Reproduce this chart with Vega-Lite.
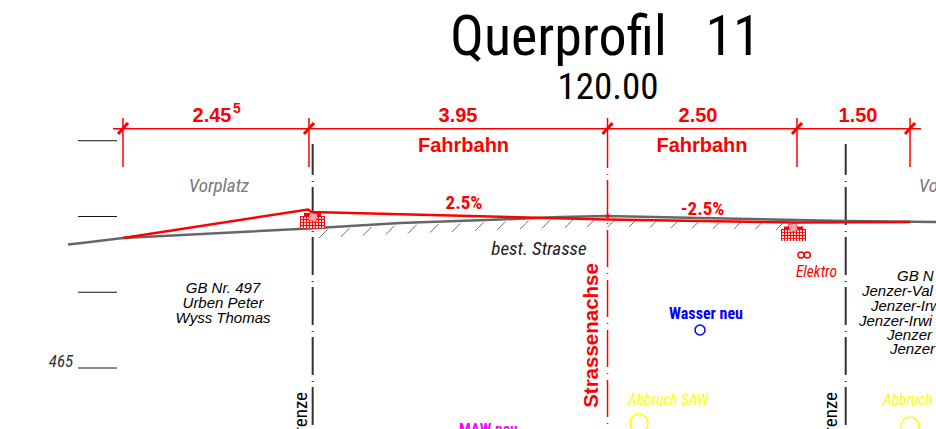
{"$schema":"https://vega.github.io/schema/vega-lite/v6.json","width":936,"height":429,"padding":0,"autosize":{"type":"none"},"background":"white","config":{"view":{"stroke":null}},
"encoding":{"x":{"field":"x","type":"quantitative","scale":{"domain":[-8.0124,4.3428],"nice":false,"zero":false},"axis":null},"y":{"field":"y","type":"quantitative","scale":{"domain":[464.1948,469.8576],"nice":false,"zero":false},"axis":null}},
"layer":[
{"data":{"values":[
{"kind":"dim","x":-6.521,"x2":4.145,"y":468.159,"y2":468.159},
{"kind":"dim","x":-6.389,"x2":-6.389,"y":468.3,"y2":467.653},
{"kind":"dim","x":-3.934,"x2":-3.934,"y":468.3,"y2":467.653},
{"kind":"dim","x":2.508,"x2":2.508,"y":468.3,"y2":467.653},
{"kind":"dim","x":4.0,"x2":4.0,"y":468.3,"y2":467.653},
{"kind":"dim","x":0.007,"x2":0.007,"y":468.3,"y2":467.64},
{"kind":"dim","x":0.007,"x2":0.007,"y":467.561,"y2":467.548},
{"kind":"axis","x":0.007,"x2":0.007,"y":467.482,"y2":464.195},
{"kind":"tick","x":-6.455,"x2":-6.323,"y":468.089,"y2":468.234},
{"kind":"tick","x":-4.0,"x2":-3.868,"y":468.089,"y2":468.234},
{"kind":"tick","x":-0.059,"x2":0.073,"y":468.089,"y2":468.234},
{"kind":"tick","x":2.442,"x2":2.574,"y":468.089,"y2":468.234},
{"kind":"tick","x":3.934,"x2":4.066,"y":468.089,"y2":468.234},
{"kind":"level","x":-6.983,"x2":-6.468,"y":468,"y2":468},
{"kind":"level","x":-6.983,"x2":-6.468,"y":467,"y2":467},
{"kind":"level","x":-6.983,"x2":-6.468,"y":466,"y2":466},
{"kind":"level","x":-6.983,"x2":-6.468,"y":465,"y2":465},
{"kind":"boundary","x":-3.885,"x2":-3.885,"y":464.248,"y2":467.957},
{"kind":"boundary","x":3.151,"x2":3.151,"y":464.248,"y2":467.957},
{"kind":"hatch","x":-3.802,"x2":-3.689,"y":466.716,"y2":466.828},
{"kind":"hatch","x":-3.511,"x2":-3.399,"y":466.733,"y2":466.845},
{"kind":"hatch","x":-3.221,"x2":-3.109,"y":466.749,"y2":466.861},
{"kind":"hatch","x":-2.917,"x2":-2.805,"y":466.765,"y2":466.877},
{"kind":"hatch","x":-2.627,"x2":-2.515,"y":466.777,"y2":466.889},
{"kind":"hatch","x":-2.336,"x2":-2.224,"y":466.787,"y2":466.899},
{"kind":"hatch","x":-2.046,"x2":-1.934,"y":466.797,"y2":466.909},
{"kind":"hatch","x":-1.742,"x2":-1.63,"y":466.808,"y2":466.921},
{"kind":"hatch","x":-1.452,"x2":-1.34,"y":466.819,"y2":466.931},
{"kind":"hatch","x":-1.148,"x2":-1.036,"y":466.831,"y2":466.943},
{"kind":"hatch","x":-0.858,"x2":-0.746,"y":466.844,"y2":466.956},
{"kind":"hatch","x":-0.554,"x2":-0.442,"y":466.852,"y2":466.964},
{"kind":"hatch","x":-0.264,"x2":-0.152,"y":466.859,"y2":466.971},
{"kind":"hatch","x":0.013,"x2":0.119,"y":466.865,"y2":466.971},
{"kind":"hatch","x":0.29,"x2":0.396,"y":466.861,"y2":466.967},
{"kind":"hatch","x":0.568,"x2":0.673,"y":466.855,"y2":466.96},
{"kind":"hatch","x":0.845,"x2":0.95,"y":466.849,"y2":466.955},
{"kind":"hatch","x":1.122,"x2":1.228,"y":466.844,"y2":466.95},
{"kind":"hatch","x":1.399,"x2":1.505,"y":466.839,"y2":466.944},
{"kind":"hatch","x":1.676,"x2":1.782,"y":466.835,"y2":466.94},
{"kind":"hatch","x":1.954,"x2":2.059,"y":466.828,"y2":466.934},
{"kind":"hatch","x":2.231,"x2":2.336,"y":466.822,"y2":466.927}
]},"mark":{"type":"rule"},"encoding":{"x2":{"field":"x2"},"y2":{"field":"y2"},
"color":{"field":"kind","type":"nominal","legend":null,"scale":{"domain":["dim","axis","tick","level","boundary","hatch"],"range":["#ff0000","#ff0000","#ff0000","#111111","#333333","#555555"]}},
"strokeWidth":{"field":"kind","type":"nominal","legend":null,"scale":{"type":"ordinal","domain":["dim","axis","tick","level","boundary","hatch"],"range":[1.5,1.5,3,1,2,1]}},
"strokeDash":{"field":"kind","type":"nominal","legend":null,"scale":{"domain":["dim","axis","tick","level","boundary","hatch"],"range":[[1,0],[37,6,1,6],[1,0],[1,0],[38,5,1,6],[1,0]]}}}},
{"data":{"values":[
{"x":-7.115,"y":466.63},{"x":-6.93,"y":466.65},{"x":-6.389,"y":466.716},{"x":-3.934,"y":466.841},{"x":-2.732,"y":466.914},{"x":-1.412,"y":466.96},{"x":-0.62,"y":466.993},{"x":0,"y":467.006},{"x":1.228,"y":466.98},{"x":3.155,"y":466.94},{"x":4.343,"y":466.927}
]},"mark":{"type":"line","color":"#666666","strokeWidth":2.5}},
{"data":{"values":[
{"x":-4.052,"x2":-3.722,"y":467.006,"y2":466.841},
{"x":-4.0,"x2":-3.775,"y":467.046,"y2":467.006},
{"x":2.297,"x2":2.627,"y":466.835,"y2":466.676},
{"x":2.336,"x2":2.587,"y":466.868,"y2":466.835}
]},"mark":{"type":"rect","color":"#ff0000"},"encoding":{"x2":{"field":"x2"},"y2":{"field":"y2"}}},
{"data":{"values":[
{"x":-4.026,"y":466.98},{"x":-3.986,"y":466.98},{"x":-3.947,"y":466.98},{"x":-3.907,"y":466.98},{"x":-3.868,"y":466.98},{"x":-3.828,"y":466.98},{"x":-3.788,"y":466.98},{"x":-3.749,"y":466.98},
{"x":-4.026,"y":466.94},{"x":-3.986,"y":466.94},{"x":-3.947,"y":466.94},{"x":-3.907,"y":466.94},{"x":-3.868,"y":466.94},{"x":-3.828,"y":466.94},{"x":-3.788,"y":466.94},{"x":-3.749,"y":466.94},
{"x":-4.026,"y":466.901},{"x":-3.986,"y":466.901},{"x":-3.947,"y":466.901},{"x":-3.907,"y":466.901},{"x":-3.868,"y":466.901},{"x":-3.828,"y":466.901},{"x":-3.788,"y":466.901},{"x":-3.749,"y":466.901},
{"x":-4.026,"y":466.861},{"x":-3.986,"y":466.861},{"x":-3.947,"y":466.861},{"x":-3.907,"y":466.861},{"x":-3.868,"y":466.861},{"x":-3.828,"y":466.861},{"x":-3.788,"y":466.861},{"x":-3.749,"y":466.861},
{"x":2.323,"y":466.808},{"x":2.363,"y":466.808},{"x":2.402,"y":466.808},{"x":2.442,"y":466.808},{"x":2.482,"y":466.808},{"x":2.521,"y":466.808},{"x":2.561,"y":466.808},{"x":2.6,"y":466.808},
{"x":2.323,"y":466.769},{"x":2.363,"y":466.769},{"x":2.402,"y":466.769},{"x":2.442,"y":466.769},{"x":2.482,"y":466.769},{"x":2.521,"y":466.769},{"x":2.561,"y":466.769},{"x":2.6,"y":466.769},
{"x":2.323,"y":466.729},{"x":2.363,"y":466.729},{"x":2.402,"y":466.729},{"x":2.442,"y":466.729},{"x":2.482,"y":466.729},{"x":2.521,"y":466.729},{"x":2.561,"y":466.729},{"x":2.6,"y":466.729},
{"x":2.323,"y":466.69},{"x":2.363,"y":466.69},{"x":2.402,"y":466.69},{"x":2.442,"y":466.69},{"x":2.482,"y":466.69},{"x":2.521,"y":466.69},{"x":2.561,"y":466.69},{"x":2.6,"y":466.69}
]},"mark":{"type":"point","shape":"circle","filled":true,"color":"white","opacity":1,"size":5}},
{"data":{"values":[{"x":-3.881,"y":466.993,"a":12},{"x":2.455,"y":466.855,"a":-15}]},"mark":{"type":"point","shape":"square","filled":true,"fill":"#f7a8a8","stroke":"#ff0000","strokeWidth":0.5,"opacity":1,"size":64},"encoding":{"angle":{"field":"a","type":"quantitative","scale":null}}},
{"data":{"values":[
{"x":-6.389,"y":466.716},{"x":-3.947,"y":467.092},{"x":-3.894,"y":467.059},{"x":0,"y":466.96},{"x":2.508,"y":466.921},{"x":4.0,"y":466.927}
]},"mark":{"type":"line","color":"#ff0000","strokeWidth":2.5}},
{"data":{"values":[{"x":0.009,"y":467.006}]},"mark":{"type":"point","shape":"circle","filled":true,"color":"#e01010","opacity":1,"size":16}},
{"data":{"values":[{"x":1.228,"y":465.502}]},"mark":{"type":"point","shape":"circle","filled":false,"opacity":1,"strokeWidth":1.5,"color":"#0000ff","size":100}},
{"data":{"values":[{"x":0.422,"y":464.274},{"x":4.0,"y":464.234}]},"mark":{"type":"point","shape":"circle","filled":false,"opacity":1,"strokeWidth":1.5,"color":"#ffff00","size":324}},
{"data":{"values":[{"x":2.561,"y":466.492},{"x":2.644,"y":466.492}]},"mark":{"type":"point","shape":"circle","filled":false,"opacity":1,"strokeWidth":1.5,"color":"#ff0000","size":36}},
{"data":{"values":[{"t":"Querprofil\u00a0\u00a0\u00a011","x":-0.02,"y":469.132}]},"mark":{"type":"text","font":"Roboto Condensed, Liberation Sans","fontSize":56,"color":"#000000","align":"center","baseline":"alphabetic"},"encoding":{"text":{"field":"t"}}},
{"data":{"values":[{"t":"120.00","x":0.013,"y":468.551}]},"mark":{"type":"text","font":"Roboto Condensed, Liberation Sans","fontSize":37,"color":"#000000","align":"center","baseline":"alphabetic"},"encoding":{"text":{"field":"t"}}},
{"data":{"values":[
{"t":"2.45","x":-5.214,"y":468.247},{"t":"3.95","x":-1.967,"y":468.247},{"t":"2.50","x":1.201,"y":468.247},{"t":"1.50","x":3.313,"y":468.247},
{"t":"Fahrbahn","x":-1.894,"y":467.851},{"t":"Fahrbahn","x":1.254,"y":467.851}
]},"mark":{"type":"text","font":"Liberation Sans","fontSize":20,"fontWeight":"bold","color":"#ff0000","align":"center","baseline":"alphabetic"},"encoding":{"text":{"field":"t"}}},
{"data":{"values":[{"t":"5","x":-4.884,"y":468.366}]},"mark":{"type":"text","font":"Liberation Sans","fontSize":14,"fontWeight":"bold","color":"#ff0000","align":"center","baseline":"alphabetic"},"encoding":{"text":{"field":"t"}}},
{"data":{"values":[{"t":"2.5%","x":-1.888,"y":467.099},{"t":"-2.5%","x":1.261,"y":467.02}]},"mark":{"type":"text","font":"Roboto Condensed, Liberation Sans","fontSize":19,"fontWeight":"bold","color":"#ff0000","align":"center","baseline":"alphabetic"},"encoding":{"text":{"field":"t"}}},
{"data":{"values":[{"t":"Strassenachse","x":-0.119,"y":465.429}]},"mark":{"type":"text","font":"Liberation Sans","fontSize":20.5,"fontWeight":"bold","color":"#ff0000","align":"center","baseline":"alphabetic","angle":270},"encoding":{"text":{"field":"t"}}},
{"data":{"values":[{"t":"Vorplatz","x":-5.122,"y":467.323},{"t":"Vorplatz","x":4.514,"y":467.323}]},"mark":{"type":"text","font":"Roboto Condensed, Liberation Sans","fontStyle":"italic","fontSize":19,"color":"#777777","align":"center","baseline":"alphabetic"},"encoding":{"text":{"field":"t"}}},
{"data":{"values":[{"t":"best. Strasse","x":-0.898,"y":466.492}]},"mark":{"type":"text","font":"Roboto Condensed, Liberation Sans","fontStyle":"italic","fontSize":19,"color":"#222222","align":"center","baseline":"alphabetic"},"encoding":{"text":{"field":"t"}}},
{"data":{"values":[{"t":"GB Nr. 497","x":-5.069,"y":465.994},{"t":"Urben Peter","x":-5.069,"y":465.792},{"t":"Wyss Thomas","x":-5.069,"y":465.594}]},"mark":{"type":"text","font":"Liberation Sans","fontStyle":"italic","fontSize":15,"color":"#000000","align":"center","baseline":"alphabetic"},"encoding":{"text":{"field":"t"}}},
{"data":{"values":[{"t":"GB N","x":3.828,"y":466.152},{"t":"Jenzer-Val","x":3.366,"y":465.954},{"t":"Jenzer-Irw","x":3.485,"y":465.756},{"t":"Jenzer-Irwi","x":3.326,"y":465.554},{"t":"Jenzer","x":3.696,"y":465.37},{"t":"Jenzer","x":3.736,"y":465.185}]},"mark":{"type":"text","font":"Liberation Sans","fontStyle":"italic","fontSize":15,"color":"#000000","align":"left","baseline":"alphabetic"},"encoding":{"text":{"field":"t"}}},
{"data":{"values":[{"t":"465","x":-7.207,"y":465.013}]},"mark":{"type":"text","font":"Roboto Condensed, Liberation Sans","fontStyle":"italic","fontSize":17,"color":"#333333","align":"center","baseline":"alphabetic"},"encoding":{"text":{"field":"t"}}},
{"data":{"values":[{"t":"Grenze","x":-3.96,"y":464.683},{"t":"Grenze","x":3.04,"y":464.683}]},"mark":{"type":"text","font":"Roboto Condensed, Liberation Sans","fontSize":19,"color":"#000000","align":"right","baseline":"alphabetic","angle":270},"encoding":{"text":{"field":"t"}}},
{"data":{"values":[{"t":"Wasser neu","x":1.307,"y":465.647}]},"mark":{"type":"text","font":"Roboto Condensed, Liberation Sans","fontSize":16,"fontWeight":"bold","color":"#0000ff","align":"center","baseline":"alphabetic"},"encoding":{"text":{"field":"t"}}},
{"data":{"values":[{"t":"Abbruch SAW","x":0.277,"y":464.512},{"t":"Abbruch SAW","x":3.643,"y":464.512}]},"mark":{"type":"text","font":"Roboto Condensed, Liberation Sans","fontStyle":"italic","fontSize":15.5,"color":"#ffff00","align":"left","baseline":"alphabetic"},"encoding":{"text":{"field":"t"}}},
{"data":{"values":[{"t":"MAW neu","x":-1.954,"y":464.129}]},"mark":{"type":"text","font":"Roboto Condensed, Liberation Sans","fontSize":15.5,"fontWeight":"bold","color":"#ff00ff","align":"left","baseline":"alphabetic"},"encoding":{"text":{"field":"t"}}},
{"data":{"values":[{"t":"Elektro","x":2.765,"y":466.201}]},"mark":{"type":"text","font":"Roboto Condensed, Liberation Sans","fontStyle":"italic","fontSize":15.5,"color":"#ff0000","align":"center","baseline":"alphabetic"},"encoding":{"text":{"field":"t"}}}
]}
